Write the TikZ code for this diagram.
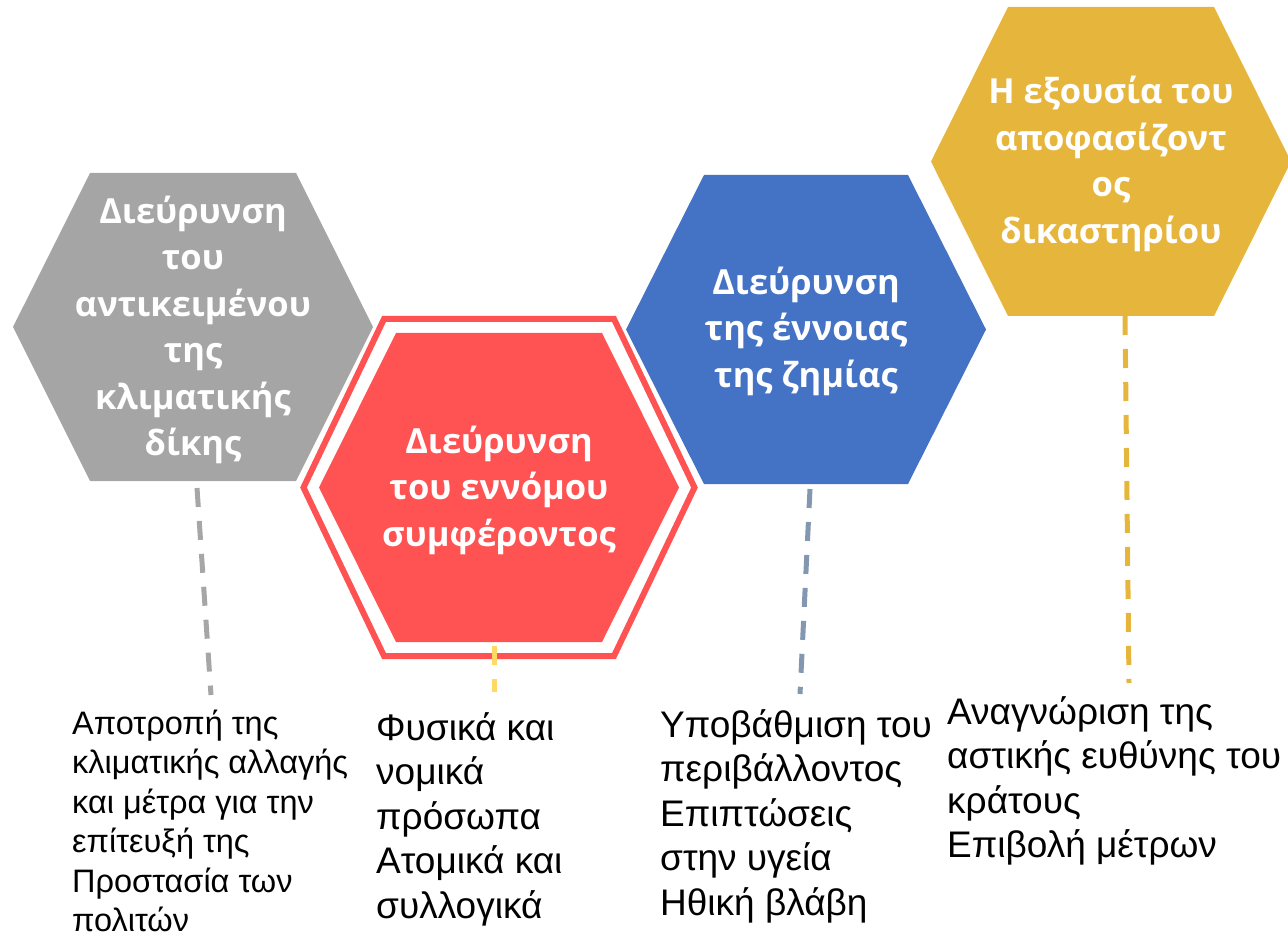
\documentclass[tikz,border=0pt]{standalone}
\usepackage{fontspec}
\setmainfont{Liberation Sans}
\newfontfamily\hexfont{Open Sans}
\definecolor{hgray}{RGB}{165,165,165}
\definecolor{hred}{RGB}{255,82,82}
\definecolor{hblue}{RGB}{68,114,196}
\definecolor{hgold}{RGB}{230,181,60}
\definecolor{lgray}{RGB}{166,166,166}
\definecolor{lyellow}{RGB}{255,217,102}
\definecolor{lslate}{RGB}{132,151,176}
\newcommand{\hexshape}[5]{(#1-#3,#2) -- (#1-#5,#2-#4) -- (#1+#5,#2-#4) -- (#1+#3,#2) -- (#1+#5,#2+#4) -- (#1-#5,#2+#4) -- cycle}
\tikzset{
  hextext/.style={text=white, align=center, inner sep=0pt, font=\hexfont\bfseries\fontsize{34.5}{46.5}\selectfont},
  smalltext/.style={anchor=base west, align=left, inner sep=0pt, font=\fontsize{32.5}{39.5}\selectfont},
  bigtext/.style={anchor=base west, align=left, inner sep=0pt, font=\fontsize{37}{44.5}\selectfont},
  dashline/.style={line width=5pt, dash pattern=on 19pt off 14pt},
}
\begin{document}
\begin{tikzpicture}[x=1pt,y=-1pt]
\useasboundingbox (0,0) rectangle (1288,933);
% hexagons
\fill[hgray] \hexshape{193}{327}{180}{154}{103};
\draw[hred, line width=6pt] \hexshape{499}{487.5}{195.5}{168.5}{115};
\fill[hred] \hexshape{499}{487.5}{180}{154.5}{103};
\fill[hblue] \hexshape{806}{329.5}{180}{154.5}{102};
\fill[hgold] \hexshape{1111}{161.5}{180}{154.5}{103};
% hexagon texts
\node[hextext] (g) at (193,330) {Διεύρυνση\\του\\αντικειμένου\\της\\κλιματικής\\δίκης};
\node[hextext] (r) at (499,490) {Διεύρυνση\\του εννόμου\\συμφέροντος};
\node[hextext] (b) at (806,331) {Διεύρυνση\\της έννοιας\\της ζημίας};
\node[hextext] (y) at (1111,164) {Η εξουσία του\\αποφασίζοντ\\ος\\δικαστηρίου};
% connector end points
\coordinate (g1) at (197,488); \coordinate (g2) at (211,695);
\coordinate (r1) at (494,646); \coordinate (r2) at (494,692);
\coordinate (b1) at (810,489); \coordinate (b2) at (800,694);
\coordinate (y1) at (1125,316); \coordinate (y2) at (1129,683);
\draw[dashline, lgray] (g1) -- (g2);
\draw[dashline, lyellow] (r1) -- (r2);
\draw[dashline, lslate] (b1) -- (b2);
\draw[dashline, hgold] (y1) -- (y2);
% lower texts (anchored at the baseline of the last line)
\node[smalltext] (t1) at (72,931.5) {Αποτροπή της\\κλιματικής αλλαγής\\και μέτρα για την\\επίτευξή της\\Προστασία των\\πολιτών};
\node[bigtext] (t2) at (376,918) {Φυσικά και\\νομικά\\πρόσωπα\\Ατομικά και\\συλλογικά};
\node[bigtext] (t3) at (660,915) {Υποβάθμιση του\\περιβάλλοντος\\Επιπτώσεις\\στην υγεία\\Ηθική βλάβη};
\node[bigtext] (t4) at (947,857.5) {Αναγνώριση της\\αστικής ευθύνης του\\κράτους\\Επιβολή μέτρων};
\end{tikzpicture}
\end{document}
